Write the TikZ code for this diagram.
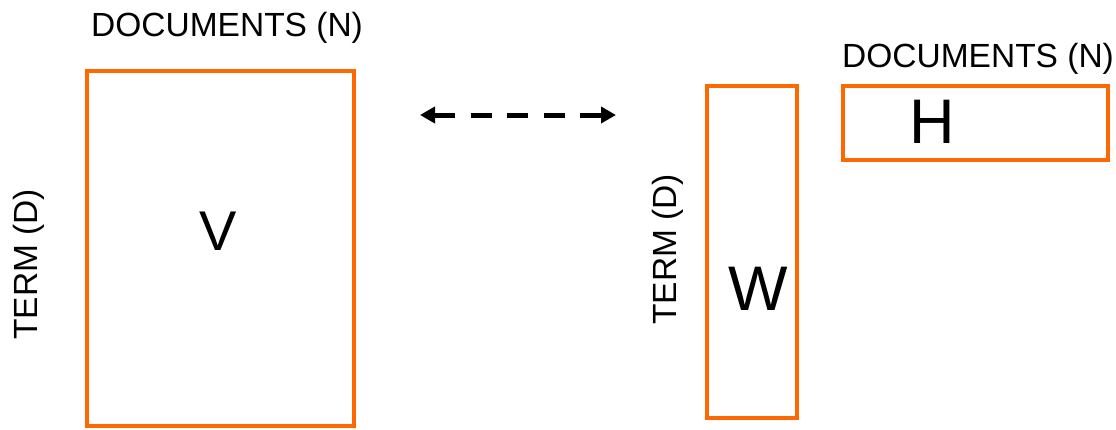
\documentclass[tikz,border=0pt]{standalone}
\usepackage{fontspec}
\setmainfont{Liberation Sans}
\usetikzlibrary{arrows.meta}
\definecolor{boxorange}{RGB}{255,104,0}
\tikzset{
  matbox/.style={draw=boxorange, line width=4.5pt, rectangle, inner sep=0pt, fill=none},
  axislabel/.style={font=\fontsize{33.5}{40}\selectfont, inner sep=0pt},
  bigletter/.style={font=\fontsize{60}{70}\selectfont, inner sep=0pt, anchor=base},
  link/.style={line width=5pt, dash pattern=on 21pt off 15.5pt, {Triangle[length=15pt,width=16pt]}-{Triangle[length=15pt,width=16pt]}}
}
\begin{document}
\begin{tikzpicture}[x=1pt,y=-1pt]
\useasboundingbox (0,0) rectangle (1116,429);
% boxes
\node[matbox, minimum width=267pt, minimum height=355pt] (V) at (220.5,248.5) {};
\node[matbox, minimum width=90pt, minimum height=332pt] (W) at (752,252) {};
\node[matbox, minimum width=265pt, minimum height=74pt] (H) at (975.5,123) {};
% letters
\node[bigletter, font=\fontsize{56}{66}\selectfont] (Vl) at (218.5,250) {V};
\node[bigletter, font=\fontsize{63}{72}\selectfont] (Wl) at (758,310) {W};
\node[bigletter, font=\fontsize{63}{72}\selectfont] (Hl) at (932,143) {H};
% axis labels
\node[axislabel, anchor=base west] (docL) at (91,36) {DOCUMENTS (N)};
\node[axislabel, anchor=base west] (docR) at (842,67) {DOCUMENTS (N)};
\node[axislabel, anchor=base west, rotate=90] (termL) at (37.5,340) {TERM (D)};
\node[axislabel, anchor=base west, rotate=90] (termR) at (676.5,325) {TERM (D)};
% arrow
\coordinate (aL) at (420,115);
\coordinate (aR) at (616,115);
\draw[link] (aL) -- (aR);
\end{tikzpicture}
\end{document}
